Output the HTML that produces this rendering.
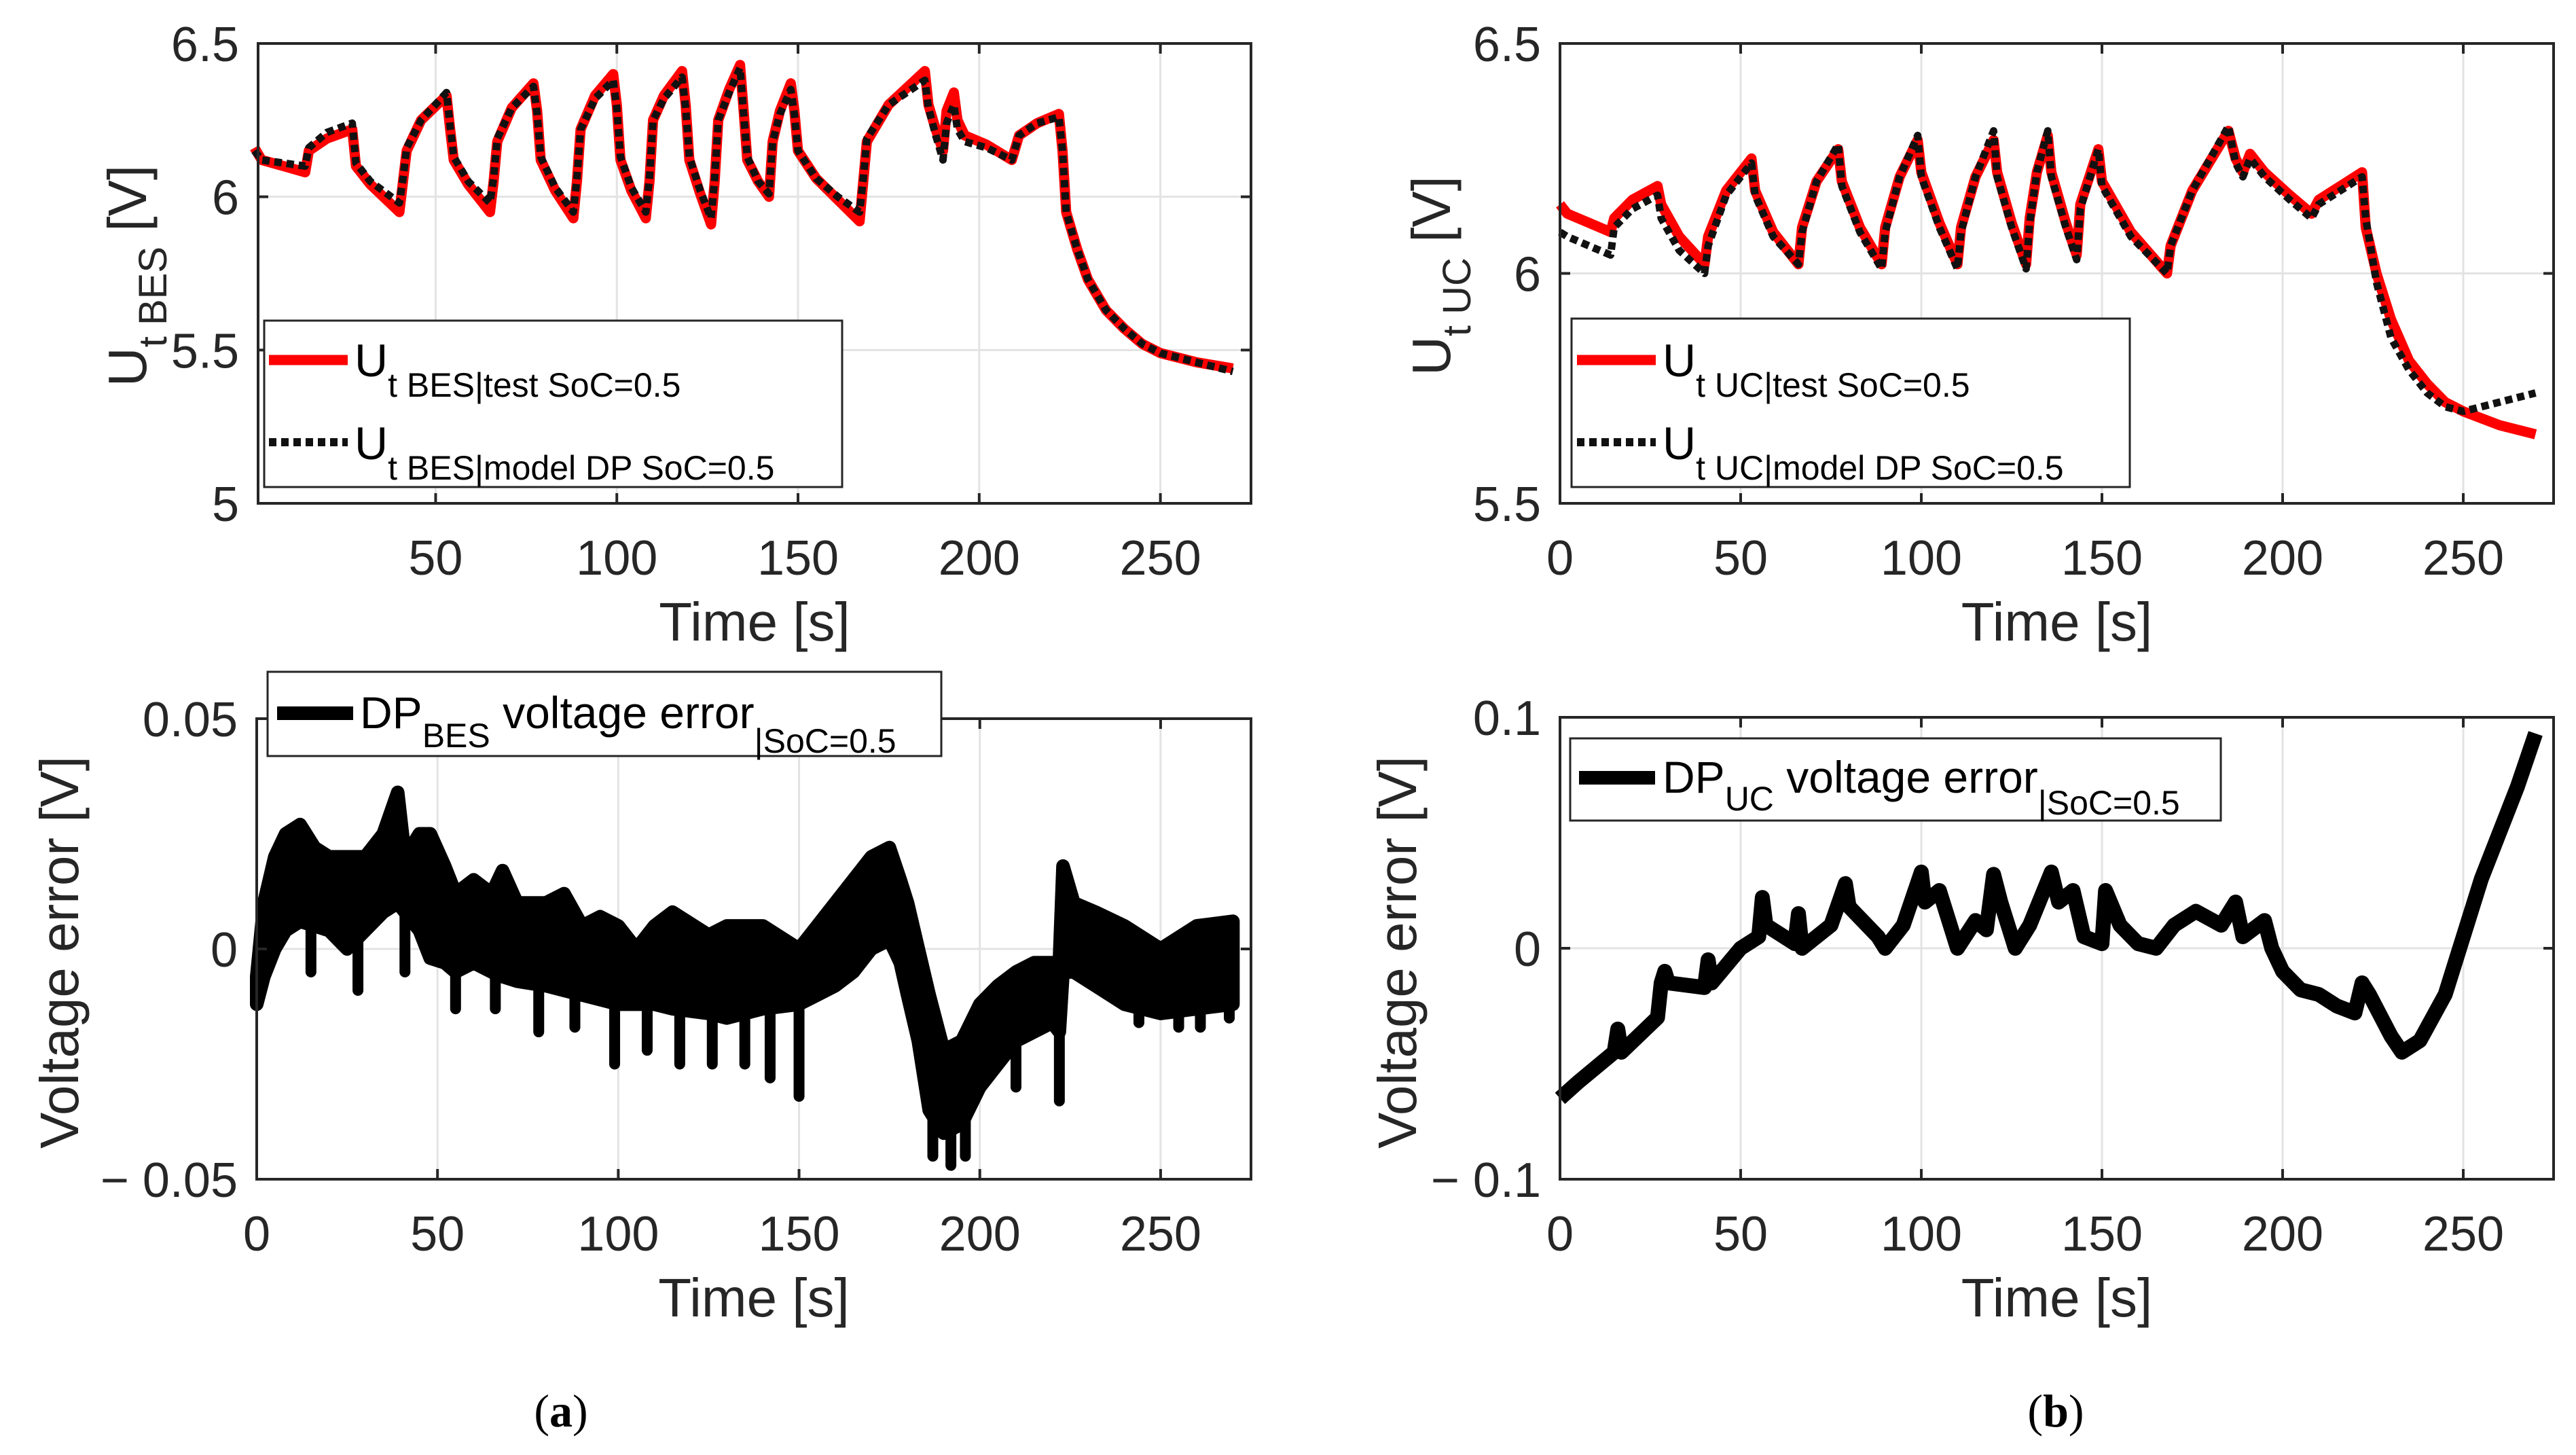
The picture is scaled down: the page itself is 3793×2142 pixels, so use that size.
<!DOCTYPE html>
<html><head><meta charset="utf-8"><style>
html,body{margin:0;padding:0;background:#fff}
svg{display:block;font-family:"Liberation Sans",Arial,sans-serif}
</style></head><body>
<svg id="fig" width="3793" height="2142" viewBox="0 0 3793 2142" xmlns="http://www.w3.org/2000/svg"></svg>
<script>
// ---- data ----
const besTestT=[0,2,8,14,15,20,27,28,32,40,41,42,46,53,54,55,59,65,66,67,71,77,78,79,83,88,89,90,94,99,100,101,104,108,109,110,113,118,119,120,123,126,127,128,131,134,135,136,139,142,143,145,148,149,150,155,161,167,168,169,175,185,186,188,190,191,193,194,196,202,209,211,216,222,223,224,227,230,235,240,245,250,260,270];
const besTestV=[6.16,6.12,6.10,6.08,6.15,6.19,6.22,6.10,6.04,5.95,6.05,6.15,6.25,6.33,6.22,6.12,6.04,5.95,6.05,6.18,6.29,6.37,6.28,6.12,6.02,5.93,6.05,6.22,6.33,6.40,6.30,6.12,6.02,5.93,6.05,6.25,6.33,6.41,6.30,6.12,6.01,5.91,6.05,6.25,6.35,6.43,6.28,6.12,6.05,6.00,6.18,6.28,6.37,6.28,6.15,6.06,5.99,5.92,6.05,6.18,6.30,6.41,6.30,6.22,6.15,6.28,6.34,6.25,6.20,6.17,6.12,6.20,6.24,6.27,6.15,5.95,5.83,5.73,5.63,5.57,5.52,5.49,5.46,5.44];
const besModelV=[6.15,6.12,6.11,6.10,6.16,6.21,6.24,6.11,6.05,5.98,6.06,6.16,6.25,6.34,6.23,6.13,6.05,5.98,6.06,6.19,6.29,6.36,6.27,6.13,6.03,5.95,6.06,6.22,6.32,6.38,6.29,6.13,6.03,5.95,6.06,6.25,6.32,6.39,6.29,6.13,6.02,5.93,6.06,6.25,6.34,6.42,6.27,6.13,6.05,6.01,6.18,6.27,6.35,6.27,6.15,6.06,6.00,5.95,6.06,6.19,6.30,6.38,6.29,6.20,6.12,6.24,6.30,6.22,6.18,6.16,6.12,6.20,6.24,6.26,6.15,5.95,5.83,5.73,5.63,5.57,5.52,5.49,5.46,5.43];
const ucTestT=[0,2,8,14,15,20,27,28,33,40,41,46,53,54,59,66,67,71,77,78,83,89,90,94,99,100,105,110,111,115,120,121,125,129,130,132,135,136,140,143,144,149,150,158,168,169,175,185,187,189,191,195,202,208,210,216,222,223,226,230,235,240,245,250,260,270];
const ucTestV=[6.15,6.13,6.11,6.09,6.12,6.16,6.19,6.15,6.08,6.02,6.08,6.18,6.25,6.18,6.09,6.02,6.10,6.20,6.27,6.20,6.10,6.02,6.10,6.21,6.29,6.22,6.11,6.02,6.10,6.21,6.29,6.22,6.11,6.02,6.12,6.22,6.30,6.22,6.11,6.04,6.15,6.27,6.20,6.09,6.00,6.06,6.18,6.31,6.25,6.22,6.26,6.22,6.17,6.13,6.16,6.19,6.22,6.10,6.00,5.90,5.81,5.76,5.72,5.70,5.67,5.65];
const ucModelV=[6.09,6.08,6.06,6.04,6.10,6.14,6.17,6.12,6.05,6.00,6.06,6.17,6.24,6.17,6.08,6.02,6.09,6.20,6.28,6.19,6.09,6.01,6.09,6.21,6.30,6.21,6.10,6.01,6.09,6.21,6.31,6.21,6.10,6.01,6.11,6.22,6.31,6.21,6.10,6.03,6.14,6.27,6.19,6.08,6.00,6.06,6.18,6.32,6.24,6.21,6.25,6.21,6.16,6.12,6.15,6.18,6.21,6.12,5.98,5.86,5.79,5.74,5.71,5.70,5.72,5.74];
const ucErrT=[0,5,15,16,17,27,28,29,30,40,41,42,50,55,56,57,65,66,67,75,79,80,88,90,95,100,101,105,110,115,118,120,122,126,130,136,138,142,145,150,151,155,160,165,170,176,183,187,189,195,197,200,205,210,215,220,222,224,230,233,238,245,250,255,260,265,270];
const ucErrV=[-0.065,-0.058,-0.045,-0.035,-0.045,-0.03,-0.015,-0.01,-0.015,-0.017,-0.005,-0.015,0.0,0.005,0.022,0.01,0.002,0.015,0.0,0.01,0.028,0.018,0.005,0.0,0.01,0.033,0.02,0.025,0.0,0.012,0.008,0.032,0.02,0.0,0.01,0.033,0.02,0.025,0.005,0.002,0.025,0.01,0.002,0.0,0.01,0.016,0.01,0.02,0.005,0.012,0.0,-0.01,-0.018,-0.02,-0.025,-0.028,-0.015,-0.02,-0.038,-0.045,-0.04,-0.02,0.005,0.03,0.05,0.07,0.093];
const besErrT=[0,2,5,8,12,16,20,25,30,35,39,41,45,48,52,55,60,65,68,72,80,85,90,95,100,105,110,115,125,130,140,150,155,160,165,170,175,178,180,183,186,190,195,200,205,210,215,220,222,223,226,232,240,250,260,270];
const besErrUp=[-0.006,0.01,0.02,0.025,0.027,0.022,0.02,0.02,0.02,0.025,0.034,0.02,0.025,0.025,0.018,0.012,0.015,0.012,0.017,0.01,0.01,0.012,0.005,0.007,0.005,0.0,0.005,0.008,0.003,0.005,0.005,0.0,0.005,0.01,0.015,0.02,0.022,0.015,0.01,0.0,-0.01,-0.022,-0.02,-0.012,-0.008,-0.005,-0.003,-0.003,-0.003,0.018,0.01,0.008,0.005,0.0,0.005,0.006];
const besErrLo=[-0.012,-0.006,0.0,0.004,0.006,0.005,0.004,0.0,0.004,0.008,0.01,0.008,0.004,-0.002,-0.003,-0.005,-0.003,-0.005,-0.006,-0.007,-0.008,-0.009,-0.01,-0.011,-0.012,-0.012,-0.012,-0.013,-0.014,-0.015,-0.013,-0.012,-0.01,-0.008,-0.005,0.0,0.002,-0.003,-0.01,-0.02,-0.035,-0.04,-0.038,-0.03,-0.025,-0.02,-0.018,-0.016,-0.018,-0.005,-0.005,-0.008,-0.012,-0.014,-0.013,-0.012];
const spikeT=[15,28,41,55,66,78,88,99,108,117,126,135,142,150,187,192,196,210,222,244,255,261,269];
const spikeV=[-0.005,-0.009,-0.005,-0.013,-0.013,-0.018,-0.017,-0.025,-0.022,-0.025,-0.025,-0.025,-0.028,-0.032,-0.045,-0.047,-0.045,-0.03,-0.033,-0.016,-0.017,-0.017,-0.015];
const xTicksTop=[50,100,150,200,250];
const xTicksBot=[0,50,100,150,200,250];
const yTicksBES=[5,5.5,6,6.5];
const yTicksUC=[5.5,6,6.5];
const yTicksBesErr=[-0.05,0,0.05];
const yTicksUcErr=[-0.1,0,0.1];

const NS="http://www.w3.org/2000/svg";
const svg=document.getElementById('fig');
function mk(tag,attrs,parent,name,inter){const e=document.createElementNS(NS,tag);for(const k in attrs)e.setAttribute(k,attrs[k]);


(parent||svg).appendChild(e);return e;}
const TXT='#262626';

function axes(cfg){
  const g=mk('g',{},svg,cfg.name,false);
  const sx=v=>cfg.L+(v-cfg.x0)/(cfg.x1-cfg.x0)*(cfg.R-cfg.L);
  const sy=v=>cfg.B-(v-cfg.y0)/(cfg.y1-cfg.y0)*(cfg.B-cfg.T);
  const grid=mk('g',{stroke:'#e3e3e3','stroke-width':3},g,'grid',false);
  cfg.xt.forEach(v=>{mk('line',{x1:sx(v),x2:sx(v),y1:cfg.T,y2:cfg.B},grid,'x-grid-line',false);});
  cfg.yt.forEach(v=>{mk('line',{y1:sy(v),y2:sy(v),x1:cfg.L,x2:cfg.R},grid,'y-grid-line',false);});
  cfg.sx=sx;cfg.sy=sy;cfg.g=g;
  return cfg;
}
function frame(cfg){
  const g=cfg.g,sx=cfg.sx,sy=cfg.sy;
  mk('rect',{x:cfg.L,y:cfg.T,width:cfg.R-cfg.L,height:cfg.B-cfg.T,fill:'none',stroke:TXT,'stroke-width':4},g,'axes-box',false);
  const tk=mk('g',{stroke:TXT,'stroke-width':4},g,'ticks',false);
  cfg.xt.forEach(v=>{mk('line',{x1:sx(v),x2:sx(v),y1:cfg.B,y2:cfg.B-15},tk,'x-tick',false);mk('line',{x1:sx(v),x2:sx(v),y1:cfg.T,y2:cfg.T+15},tk,'x-tick',false);
    const t=mk('text',{x:sx(v),y:cfg.B+105,'text-anchor':'middle','font-size':72,fill:TXT},g,'x-tick-label',false);t.textContent=v;});
  cfg.yt.forEach(v=>{mk('line',{y1:sy(v),y2:sy(v),x1:cfg.L,x2:cfg.L+15},tk,'y-tick',false);mk('line',{y1:sy(v),y2:sy(v),x1:cfg.R,x2:cfg.R-15},tk,'y-tick',false);
    const t=mk('text',{x:cfg.L-28,y:sy(v)+26,'text-anchor':'end','font-size':72,fill:TXT},g,'y-tick-label',false);t.textContent=v<0?'\u2212 '+Math.abs(v):String(v);});
  const xl=mk('text',{x:(cfg.L+cfg.R)/2,y:cfg.B+202,'text-anchor':'middle','font-size':80,fill:TXT},g,'x-axis-title',false);xl.textContent='Time [s]';
}
function path(cfg,T,V,attrs,name){
  let d='';T.forEach((t,i)=>{d+=(i?'L':'M')+cfg.sx(t).toFixed(1)+','+cfg.sy(V[i]).toFixed(1);});
  return mk('path',Object.assign({d:d,fill:'none','stroke-linejoin':'round'},attrs),cfg.g,name,false);
}
function interp(T,V,t){for(let i=1;i<T.length;i++){if(t<=T[i]){const f=(t-T[i-1])/(T[i]-T[i-1]);return V[i-1]+f*(V[i]-V[i-1]);}}return V[V.length-1];}

const a1=axes({name:'bes-voltage-plot',L:380,R:1842,T:64,B:741,x0:1,x1:275,y0:5,y1:6.5,xt:xTicksTop,yt:yTicksBES});
path(a1,besTestT,besTestV,{stroke:'#ff0000','stroke-width':15},'bes-test-line');
path(a1,besTestT,besModelV,{stroke:'#111','stroke-width':11,'stroke-dasharray':'11 7'},'bes-model-line');
frame(a1);
const a2=axes({name:'uc-voltage-plot',L:2297,R:3760,T:64,B:741,x0:0,x1:275,y0:5.5,y1:6.5,xt:xTicksBot,yt:yTicksUC});
path(a2,ucTestT,ucTestV,{stroke:'#ff0000','stroke-width':15},'uc-test-line');
path(a2,ucTestT,ucModelV,{stroke:'#111','stroke-width':11,'stroke-dasharray':'11 7'},'uc-model-line');
frame(a2);
const a3=axes({name:'bes-error-plot',L:378,R:1842,T:1058,B:1736,x0:0,x1:275,y0:-0.05,y1:0.05,xt:xTicksBot,yt:yTicksBesErr});
{let d='';besErrT.forEach((t,i)=>{d+=(i?'L':'M')+a3.sx(t).toFixed(1)+','+a3.sy(besErrUp[i]).toFixed(1);});
for(let i=besErrT.length-1;i>=0;i--)d+='L'+a3.sx(besErrT[i]).toFixed(1)+','+a3.sy(besErrLo[i]).toFixed(1);d+='Z';
mk('path',{d:d,fill:'#000',stroke:'#000','stroke-width':20,'stroke-linejoin':'round'},a3.g,'bes-error-band',false);
spikeT.forEach((t,i)=>{const base=interp(besErrT,besErrLo,t);mk('line',{x1:a3.sx(t),x2:a3.sx(t),y1:a3.sy(base),y2:a3.sy(spikeV[i]),stroke:'#000','stroke-width':16,'stroke-linecap':'round'},a3.g,'bes-error-spike',false);});}
frame(a3);
const a4=axes({name:'uc-error-plot',L:2297,R:3760,T:1056,B:1736,x0:0,x1:275,y0:-0.1,y1:0.1,xt:xTicksBot,yt:yTicksUcErr});
path(a4,ucErrT,ucErrV,{stroke:'#000','stroke-width':22},'uc-error-line');
frame(a4);
</script>
<svg style="position:absolute;left:0;top:0" width="3793" height="2142" xmlns="http://www.w3.org/2000/svg" font-family="Liberation Sans, Arial, sans-serif">
  <text transform="translate(215,406) rotate(-90)" text-anchor="middle" font-size="80" fill="#262626">U<tspan font-size="58" dy="30">t BES</tspan><tspan dy="-30"> [V]</tspan></text>
  <text transform="translate(2135,406) rotate(-90)" text-anchor="middle" font-size="80" fill="#262626">U<tspan font-size="58" dy="30">t UC</tspan><tspan dy="-30"> [V]</tspan></text>
  <text transform="translate(115,1402) rotate(-90)" text-anchor="middle" font-size="80" fill="#262626">Voltage error [V]</text>
  <text transform="translate(2085,1402) rotate(-90)" text-anchor="middle" font-size="80" fill="#262626">Voltage error [V]</text>
  <g>
    <rect x="389" y="472" width="851" height="245" fill="#fff" stroke="#262626" stroke-width="3"/>
    <line x1="396" y1="530" x2="512" y2="530" stroke="#ff0000" stroke-width="15"/>
    <text x="522" y="554" font-size="68" fill="#000">U<tspan font-size="50" dy="30">t BES|test SoC=0.5</tspan></text>
    <line x1="396" y1="651" x2="512" y2="651" stroke="#111" stroke-width="12" stroke-dasharray="11 7"/>
    <text x="522" y="676" font-size="68" fill="#000">U<tspan font-size="50" dy="30">t BES|model DP SoC=0.5</tspan></text>
  </g>
  <g>
    <rect x="2314" y="469" width="822" height="248" fill="#fff" stroke="#262626" stroke-width="3"/>
    <line x1="2322" y1="530" x2="2438" y2="530" stroke="#ff0000" stroke-width="15"/>
    <text x="2448" y="554" font-size="68" fill="#000">U<tspan font-size="50" dy="30">t UC|test SoC=0.5</tspan></text>
    <line x1="2322" y1="651" x2="2438" y2="651" stroke="#111" stroke-width="12" stroke-dasharray="11 7"/>
    <text x="2448" y="676" font-size="68" fill="#000">U<tspan font-size="50" dy="30">t UC|model DP SoC=0.5</tspan></text>
  </g>
  <g>
    <rect x="394" y="989" width="992" height="124" fill="#fff" stroke="#262626" stroke-width="3"/>
    <line x1="408" y1="1050" x2="520" y2="1050" stroke="#000" stroke-width="20"/>
    <text x="530" y="1072" font-size="66" fill="#000">DP<tspan font-size="50" dy="28">BES</tspan><tspan font-size="66" dy="-28"> voltage error</tspan><tspan font-size="50" dy="36">|SoC=0.5</tspan></text>
  </g>
  <g>
    <rect x="2312" y="1087" width="958" height="121" fill="#fff" stroke="#262626" stroke-width="3"/>
    <line x1="2325" y1="1145" x2="2437" y2="1145" stroke="#000" stroke-width="20"/>
    <text x="2448" y="1167" font-size="66" fill="#000">DP<tspan font-size="50" dy="26">UC</tspan><tspan font-size="66" dy="-26"> voltage error</tspan><tspan font-size="50" dy="32">|SoC=0.5</tspan></text>
  </g>
  <text x="826" y="2100" text-anchor="middle" font-family="Liberation Serif, serif" font-size="68" fill="#000">(<tspan font-weight="bold">a</tspan>)</text>
  <text x="3027" y="2100" text-anchor="middle" font-family="Liberation Serif, serif" font-size="68" fill="#000">(<tspan font-weight="bold">b</tspan>)</text>
</svg>
</body></html>
